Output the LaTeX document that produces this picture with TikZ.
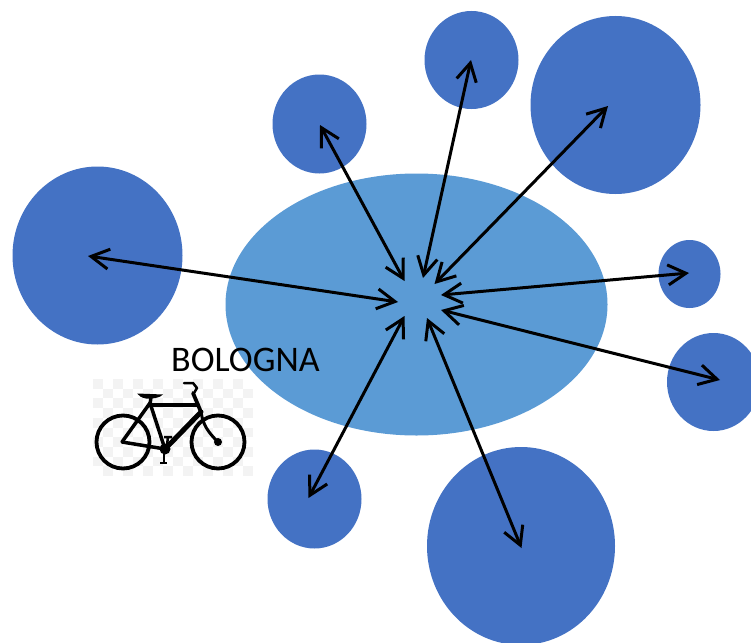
\documentclass[tikz,border=0pt]{standalone}
\usepackage{fontspec}
\setmainfont{Carlito}
\usetikzlibrary{arrows.meta,shapes.geometric}
\definecolor{bubble}{HTML}{4472C4}
\definecolor{hubblue}{HTML}{5B9BD5}
\definecolor{checker}{HTML}{F3F3F3}
\tikzset{
  x=1pt,y=-1pt,
  blob/.style={ellipse,fill=#1,draw=none,inner sep=0pt,outer sep=0pt},
  blob/.default=bubble,
  link/.style={line width=3pt,black,{Straight Barb[length=18pt,width=20pt,line width=3pt]}-{Straight Barb[length=18pt,width=20pt,line width=3pt]}},
  bike/.style={line width=3.8pt,black,line cap=round,line join=round},
  bikefat/.style={line width=5pt,black,line cap=round,line join=round}
}
\begin{document}
\begin{tikzpicture}
\useasboundingbox (0,0) rectangle (751,642);
\clip (0,0) rectangle (751,642);
\fill[white] (0,0) rectangle (751,642);
\node[blob=hubblue,minimum width=382pt,minimum height=262pt] (hub) at (416.5,304.5) {};
\node[blob,minimum width=170pt,minimum height=178pt] (left) at (97.5,255.5) {};
\node[blob,minimum width=94pt,minimum height=99pt] (topleft) at (319.5,124) {};
\node[blob,minimum width=94pt,minimum height=98pt] (top) at (471.5,60) {};
\node[blob,minimum width=170pt,minimum height=178pt] (topright) at (615.5,105) {};
\node[blob,minimum width=62pt,minimum height=68pt] (right) at (689.5,274) {};
\node[blob,minimum width=93pt,minimum height=98pt] (lowright) at (713.5,382) {};
\node[blob,minimum width=188pt,minimum height=198pt] (bottom) at (521,546) {};
\node[blob,minimum width=94pt,minimum height=99pt] (lowleft) at (314.5,499) {};
% bicycle picture
\fill[white] (93,379) rectangle (253,476);
\foreach \i in {0,...,15}{\foreach \j in {0,...,9}{
  \pgfmathparse{int(mod(\i+\j,2))}
  \ifnum\pgfmathresult=0 \fill[checker] ({93+10*\i},{379+9.7*\j}) rectangle ({103+10*\i},{388.7+9.7*\j});\fi
}}
\draw[bike] (123,442) circle (26.5);
\draw[bike] (218,442) circle (26.5);
\draw[line width=3.5pt,line join=round] (122,442) -- (150,403) -- (165,449);
\draw[line width=3.5pt,line cap=round] (122,442) -- (165,449);
\draw[bikefat,line width=4pt] (150,405) -- (198,405);
\draw[bikefat] (165,449) -- (201,412);
\draw[bike] (193,393) -- (201,412);
\draw[line width=3pt,line cap=round] (201,412) .. controls (203,425) and (208,432) .. (218,442);
\fill (218,442) circle (4);
\fill (165,449) circle (5.5);
\fill (137,393.5) -- (163,394.5) .. controls (160,398) and (152,399) .. (146,398.5) .. controls (142,398) and (139,396) .. (137,393.5) -- cycle;
\draw[line width=3.5pt] (151,397) -- (150,405);
\draw[line width=2.5pt,line cap=round,line join=round] (184,383) -- (193,383) -- (197,388) -- (194,393);
\draw[line width=2.5pt] (164,449) -- (164,462) (160,463) -- (167,463);
\draw[line width=2.5pt] (167,445) -- (168,437) (164,437) -- (172,437);
% label
\node[anchor=base west,inner sep=0pt,font=\fontsize{36}{36}\selectfont] (city) at (171,371) {BOLOGNA};
% connectors
\coordinate (a1) at (88,256);   \coordinate (b1) at (398,302);
\coordinate (a2) at (320,125);  \coordinate (b2) at (404.5,281);
\coordinate (a3) at (471,60);   \coordinate (b3) at (423,278);
\coordinate (a4) at (608,106);  \coordinate (b4) at (434.5,284);
\coordinate (a5) at (689,273);  \coordinate (b5) at (441,295);
\coordinate (a6) at (720,380);  \coordinate (b6) at (441,310);
\coordinate (a7) at (521.5,548);  \coordinate (b7) at (427,318);
\coordinate (a8) at (308.5,498);  \coordinate (b8) at (404.5,316);
\foreach \k in {1,...,8} \draw[link] (a\k) -- (b\k);
\end{tikzpicture}
\end{document}
